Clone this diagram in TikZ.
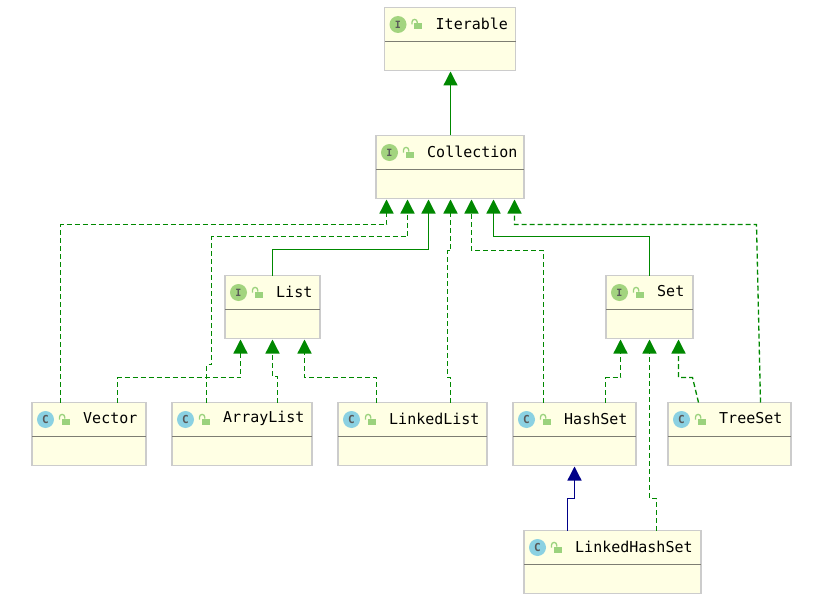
\documentclass[tikz,border=0pt]{standalone}
\usepackage{fontspec}
\setmonofont{DejaVu Sans Mono}
\usepackage{xcolor}
\usetikzlibrary{arrows.meta, positioning}
\definecolor{boxfill}{HTML}{FFFFE4}
\definecolor{boxedge}{HTML}{CCCCCC}
\definecolor{dividergray}{HTML}{7D7D72}
\definecolor{inheritgreen}{HTML}{008800}
\definecolor{inheritblue}{HTML}{000088}
\definecolor{icongreen}{HTML}{A3D47F}
\definecolor{iconcyan}{HTML}{8BD1E2}
\definecolor{lockgreen}{HTML}{9BD27D}

\begin{document}
\begin{tikzpicture}[
  x=1pt, y=1pt,
  umlbox/.style={rectangle, draw=boxedge, fill=boxfill, line width=1.8pt, minimum height=63pt, outer sep=0pt, inner sep=0pt},
  divider/.style={draw=dividergray, line width=1.8pt},
  iconI/.style={circle, fill=icongreen, minimum size=17pt, inner sep=0pt, text=black!65, font=\ttfamily\bfseries\fontsize{10}{10}\selectfont},
  iconC/.style={circle, fill=iconcyan, minimum size=17pt, inner sep=0pt, text=black!65, font=\ttfamily\bfseries\fontsize{11}{11}\selectfont},
  title/.style={anchor=west, inner sep=0pt, font=\ttfamily\fontsize{15}{15}\selectfont},
  extends/.style={-{Triangle[length=14pt, width=14pt]}, line width=1.3pt, draw=inheritgreen, color=inheritgreen, shorten >=1pt},
  realizes/.style={extends, dash pattern=on 5pt off 3pt},
  subclass/.style={extends, draw=inheritblue, color=inheritblue}
]
  \useasboundingbox (0,0) rectangle (823,-602);

  \node[umlbox, minimum width=131pt] (iterable) at (450,-39) {};
  \node[umlbox, minimum width=148pt, below=65pt of iterable] (collection) {};
  \node[umlbox, minimum width=95pt, below left=77pt and 56pt of collection] (list) {};
  \node[umlbox, minimum width=87pt, below right=77pt and 82pt of collection] (set) {};
  \node[umlbox, minimum width=114pt, below left=64pt and 79pt of list] (vector) {};
  \node[umlbox, minimum width=140pt, right=26pt of vector] (arraylist) {};
  \node[umlbox, minimum width=149pt, right=26pt of arraylist] (linkedlist) {};
  \node[umlbox, minimum width=123pt, right=26pt of linkedlist] (hashset) {};
  \node[umlbox, minimum width=123pt, right=32pt of hashset] (treeset) {};
  \node[umlbox, minimum width=177pt, below=65pt of hashset.south west, anchor=north west, xshift=11pt] (linkedhashset) {};

  \foreach \name/\kind/\txt in {iterable/I/Iterable, collection/I/Collection, list/I/List, set/I/Set,
      vector/C/Vector, arraylist/C/ArrayList, linkedlist/C/LinkedList, hashset/C/HashSet,
      treeset/C/TreeSet, linkedhashset/C/LinkedHashSet} {
    \draw[divider] ([yshift=-34pt]\name.north west) -- ([yshift=-34pt]\name.north east);
    \node[icon\kind] (\name icon) at ([xshift=13.5pt, yshift=-17pt]\name.north west) {\kind};
    \node[title] (\name title) at ([xshift=51pt, yshift=-16pt]\name.north west) {\txt};
    \begin{scope}[shift={(\name icon.center)}]
      \fill[lockgreen] (16,1) rectangle (24,-5);
      \draw[lockgreen, line width=1.3pt] (14,0) -- (14,2.5) arc (180:0:2.6) -- (19.2,1);
    \end{scope}
  }

  \draw[extends] ([xshift=0.5pt]collection.north) -- ([xshift=0.5pt]iterable.south);

  \draw[realizes] ([xshift=-28.5pt]vector.north) -- ++(0,178) -| ([xshift=-63.5pt]collection.south);
  \draw[realizes] ([xshift=-35.5pt]arraylist.north) -- ++(0,38) -- ++(5,0) -- ++(0,128) -| ([xshift=-42.5pt]collection.south);
  \draw[extends] (list.north) -- ++(0,26) -| ([xshift=-21.5pt]collection.south);
  \draw[realizes] ([xshift=38pt]linkedlist.north) -- ++(0,25) -- ++(-3,0) -- ++(0,127) -- ++(3,0) -- ([xshift=0.5pt]collection.south);
  \draw[realizes] ([xshift=-31pt]hashset.north) -- ++(0,152) -| ([xshift=21.5pt]collection.south);
  \draw[extends] (set.north) -- ++(0,39) -| ([xshift=43.5pt]collection.south);
  \draw[realizes] ([xshift=31pt]treeset.north) -- ++(-4,178) -| ([xshift=64.5pt]collection.south);

  \draw[realizes] ([xshift=28.5pt]vector.north) -- ++(0,25) -| ([xshift=-32pt]list.south);
  \draw[realizes] ([xshift=35.5pt]arraylist.north) -- ++(0,26) -| (list.south);
  \draw[realizes] ([xshift=-36pt]linkedlist.north) -- ++(0,25) -| ([xshift=32pt]list.south);

  \draw[realizes] ([xshift=31pt]hashset.north) -- ++(0,25) -| ([xshift=-29pt]set.south);
  \draw[realizes] ([xshift=44pt]linkedhashset.north) -- ++(0,32) -| (set.south);
  \draw[realizes] ([xshift=-31pt]treeset.north) -- ++(-6,25) -| ([xshift=29pt]set.south);

  \draw[subclass] ([xshift=-45pt]linkedhashset.north) -- ++(0,32) -| (hashset.south);
\end{tikzpicture}
\end{document}
